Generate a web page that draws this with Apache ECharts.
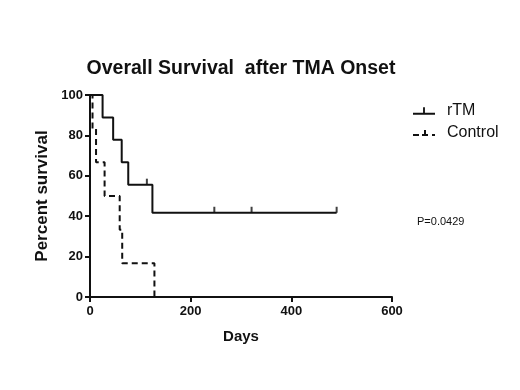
<!DOCTYPE html>
<html>
<head>
<meta charset="utf-8">
<script src="https://cdn.jsdelivr.net/npm/echarts@6/dist/echarts.min.js"></script>
<style>
  html, body { margin: 0; padding: 0; background: #fff; }
  #chart { width: 520px; height: 390px; }
</style>
</head>
<body>
<div id="chart"></div>
<script>
// Kaplan-Meier steps: [day, percent survival after that day]
const rtmSteps = [[0, 100], [25, 88.9], [46, 77.8], [63, 66.7], [76, 55.6], [124, 41.7], [490, 41.7]]
const rtmCensored = [[113, 55.6], [247, 41.7], [321, 41.7], [490, 41.7]]
const controlSteps = [[0, 100], [5, 83.3], [12, 66.7], [29, 50], [59, 33.3], [64, 16.7], [128, 0]]
const xTicks = [0, 200, 400, 600]
const yTicks = [0, 20, 40, 60, 80, 100]

const font = 'Liberation Sans, Arial, sans-serif'
const ink = '#111'

// legend glyphs: line with a censor tick
const rtmIcon = 'path://M0,6h24v2h-24z M11,0h2v6h-2z'
const controlIcon = 'path://M0,6h6v2h-6z M9,6h6v2h-6z M11,2h2v4h-2z M19,6h3v2h-3z'

const chart = echarts.init(document.getElementById('chart'))

const option = {
  animation: false,
  title: {
    text: 'Overall Survival  after TMA Onset',
    left: 236,
    top: 54,
    textAlign: 'center',
    textStyle: { fontFamily: font, fontSize: 19.5, fontWeight: 'bold', color: ink }
  },
  legend: {
    orient: 'vertical',
    left: 408,
    top: 98,
    itemGap: 6,
    itemWidth: 22,
    itemHeight: 8,
    textStyle: { fontFamily: font, fontSize: 16, color: ink, padding: [0, 0, 0, 7] },
    data: [
      { name: 'rTM', icon: rtmIcon },
      { name: 'Control', icon: controlIcon }
    ]
  },
  grid: { left: 90, top: 95, width: 302, height: 202 },
  xAxis: {
    type: 'value',
    min: 0,
    max: 600,
    interval: 200,
    name: 'Days',
    nameLocation: 'middle',
    nameGap: 32,
    nameTextStyle: { fontFamily: font, fontSize: 15, fontWeight: 'bold', color: ink },
    axisLine: { show: true, lineStyle: { color: ink, width: 2 } },
    axisTick: { show: true, length: 5, lineStyle: { color: ink, width: 2 } },
    axisLabel: {
      fontFamily: font, fontSize: 13, fontWeight: 'bold', color: ink, margin: 8,
      formatter: v => xTicks.includes(v) ? String(v) : ''
    },
    splitLine: { show: false }
  },
  yAxis: {
    type: 'value',
    min: 0,
    max: 100,
    interval: 20,
    name: 'Percent survival',
    nameLocation: 'middle',
    nameGap: 38,
    nameTextStyle: { fontFamily: font, fontSize: 17, fontWeight: 'bold', color: ink },
    axisLine: { show: true, lineStyle: { color: ink, width: 2 } },
    axisTick: { show: true, length: 5, lineStyle: { color: ink, width: 2 } },
    axisLabel: {
      fontFamily: font, fontSize: 13, fontWeight: 'bold', color: ink, margin: 7,
      formatter: v => yTicks.includes(v) ? String(v) : ''
    },
    splitLine: { show: false }
  },
  graphic: [{
    type: 'text',
    left: 417,
    top: 216,
    style: { text: 'P=0.0429', font: '11px ' + font, fill: ink }
  }],
  series: [
    {
      name: 'rTM',
      type: 'line',
      step: 'end',
      symbol: 'none',
      lineStyle: { color: ink, width: 2 },
      itemStyle: { color: ink },
      data: rtmSteps
    },
    {
      name: 'rTM',
      type: 'scatter',
      symbol: 'rect',
      symbolSize: [2, 6],
      symbolOffset: [0, -3],
      itemStyle: { color: ink },
      data: rtmCensored
    },
    {
      name: 'Control',
      type: 'line',
      step: 'end',
      symbol: 'none',
      lineStyle: { color: ink, width: 2, type: [6, 4] },
      itemStyle: { color: ink },
      data: controlSteps
    }
  ]
}

chart.setOption(option)
</script>
</body>
</html>
